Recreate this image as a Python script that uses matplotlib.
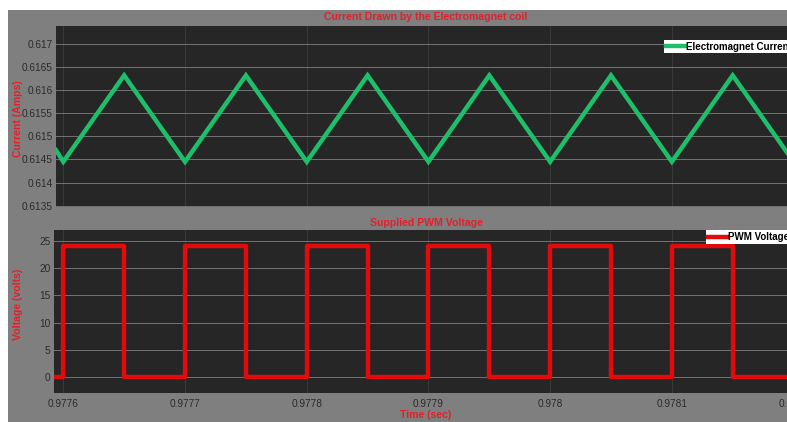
import matplotlib
matplotlib.use("Agg")
import matplotlib.pyplot as plt
from matplotlib.patches import Rectangle

plt.rcParams['font.family'] = ['Liberation Sans', 'DejaVu Sans']

# Coil current: turning points of the triangular ripple (time in s, current in A)
current_t = [0.977594, 0.97760, 0.97765, 0.97770, 0.97775, 0.97780, 0.97785,
             0.97790, 0.97795, 0.97800, 0.97805, 0.97810, 0.97815, 0.97820]
current_a = [0.61470, 0.61445, 0.61632, 0.61445, 0.61632, 0.61445, 0.61632,
             0.61445, 0.61632, 0.61445, 0.61632, 0.61445, 0.61632, 0.61445]

# PWM supply voltage: edges of the square wave (time in s, volts)
pwm_t = [0.977592, 0.97760, 0.97760, 0.97765, 0.97765, 0.97770, 0.97770,
         0.97775, 0.97775, 0.97780, 0.97780, 0.97785, 0.97785, 0.97790,
         0.97790, 0.97795, 0.97795, 0.97800, 0.97800, 0.97805, 0.97805,
         0.97810, 0.97810, 0.97815, 0.97815, 0.97820]
pwm_v = [0, 0, 24, 24, 0, 0, 24, 24, 0, 0, 24, 24, 0, 0,
         24, 24, 0, 0, 24, 24, 0, 0, 24, 24, 0, 0]

x_ticks = [0.9776, 0.9777, 0.9778, 0.9779, 0.9780, 0.9781, 0.9782]
x_tick_labels = ['0.9776', '0.9777', '0.9778', '0.9779', '0.978', '0.9781', '0.9782']
current_ticks = [0.6135, 0.614, 0.6145, 0.615, 0.6155, 0.616, 0.6165, 0.617]
current_tick_labels = ['0.6135', '0.614', '0.6145', '0.615', '0.6155', '0.616', '0.6165', '0.617']
voltage_ticks = [0, 5, 10, 15, 20, 25]

W, H = 787, 422
fig = plt.figure(figsize=(W / 100, H / 100), dpi=100, facecolor='white')

PANEL = '#7f7f7f'
AXBG = '#262626'
RED_TXT = '#e3202a'
TICK_TXT = '#2b2b2b'
GREEN = '#1dbf6a'
RED = '#e20a0a'

panel = Rectangle((8 / W, 0), 1 - 8 / W, (H - 10) / H,
                  transform=fig.transFigure, facecolor=PANEL,
                  edgecolor='none', zorder=-10)
fig.add_artist(panel)


def fpos(left, top, right, bottom):
    return [left / W, (H - bottom) / H, (right - left) / W, (bottom - top) / H]


def style(ax):
    ax.set_facecolor(AXBG)
    for s in ax.spines.values():
        s.set_visible(False)
    ax.tick_params(axis='both', length=0, colors=TICK_TXT, labelsize=7.3)
    ax.tick_params(axis='y', pad=2.5)
    ax.tick_params(axis='x', pad=4)
    ax.grid(axis='y', color='#8c8c8c', linewidth=0.7, alpha=0.75)
    ax.grid(axis='x', color='#6a6a6a', linewidth=0.7, alpha=0.3)
    ax.set_axisbelow(True)


def legend(ax, anchor):
    leg = ax.legend(loc='upper right', bbox_to_anchor=anchor,
                    frameon=True, fancybox=False, framealpha=1,
                    borderpad=0.2, handlelength=1.9, handletextpad=0.15,
                    borderaxespad=0, prop={'size': 7.0, 'weight': 'bold'})
    leg.get_frame().set_linewidth(0)
    return leg


# Upper panel: coil current
ax1 = fig.add_axes(fpos(56, 26, 796, 207))
style(ax1)
ax1.plot(current_t, current_a, color=GREEN, linewidth=3.2,
         solid_joinstyle='miter', label='Electromagnet Current')
ax1.set_xlim(0.977594, 0.978202)
ax1.set_ylim(0.61347, 0.61739)
ax1.set_xticks(x_ticks)
ax1.set_xticklabels([])
ax1.set_yticks(current_ticks)
ax1.set_yticklabels(current_tick_labels)
ax1.set_title('Current Drawn by the Electromagnet coil', color=RED_TXT,
              fontsize=7.6, fontweight='bold', pad=4)
ax1.set_ylabel('Current (Amps)', color=RED_TXT, fontsize=7.6, fontweight='bold')
ax1.yaxis.set_label_coords((23 - 56) / 740, 0.49)
legend(ax1, (0.997, 0.925))

# Lower panel: PWM voltage
ax2 = fig.add_axes(fpos(54, 230, 798, 393))
style(ax2)
ax2.plot(pwm_t, pwm_v, color=RED, linewidth=3.2,
         solid_joinstyle='round', label='PWM Voltage')
ax2.set_xlim(0.9775925, 0.9782035)
ax2.set_ylim(-2.9, 27.0)
ax2.set_xticks(x_ticks)
ax2.set_xticklabels(x_tick_labels)
ax2.set_yticks(voltage_ticks)
ax2.set_title('Supplied PWM Voltage', color=RED_TXT, fontsize=7.6,
              fontweight='bold', pad=3)
ax2.set_ylabel('Voltage (volts)', color=RED_TXT, fontsize=7.6, fontweight='bold')
ax2.yaxis.set_label_coords((23 - 54) / 744, 0.545)
ax2.set_xlabel('Time (sec)', color=RED_TXT, fontsize=7.6,
               fontweight='bold', labelpad=1)
legend(ax2, (0.991, 1.0))

fig.savefig('out.png', dpi=100, facecolor='white')
